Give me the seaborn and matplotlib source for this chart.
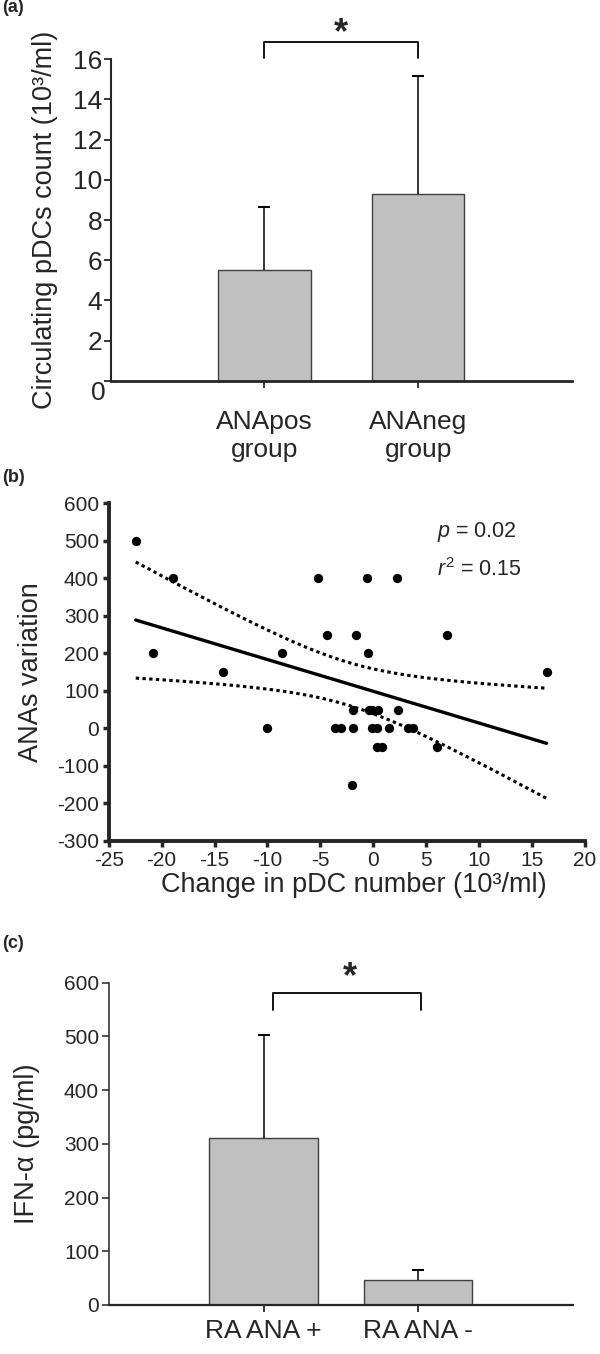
import numpy as np
import pandas as pd
import seaborn as sns
import matplotlib.pyplot as plt

# Panel (a): circulating pDCs per group
group_a = ['ANApos\ngroup', 'ANAneg\ngroup']
pdc_mean = [5.5, 9.3]
pdc_sd = [3.15, 5.85]

# Panel (b): change in pDC number vs ANA variation
pdc_change = [-22.45, -18.9, -20.8, -14.2, -10.0, -8.6, -5.17, -4.35, -3.6, -3.06,
              -2.0, -1.6, -0.6, 2.24, -0.44, 7.03, 16.4,
              -1.86, -0.35, -0.07, 0.5, 2.39,
              -1.86, -0.12, 0.35, 1.54, 3.34, 3.75,
              0.35, 0.82, 6.02]
ana_var = [500, 400, 200, 150, 0, 200, 400, 250, 0, 0,
           -150, 250, 400, 400, 200, 250, 150,
           50, 50, 50, 50, 50,
           0, 0, 0, 0, 0, 0,
           -50, -50, -50]

# Panel (c): IFN-alpha per group
group_c = ['RA ANA +', 'RA ANA -']
ifn_mean = [310, 46]
ifn_sd = [192, 19]

sns.set_style('ticks')
plt.rcParams['font.family'] = ['Liberation Sans', 'DejaVu Sans']
plt.rcParams['axes.unicode_minus'] = False
plt.rcParams['mathtext.fontset'] = 'custom'
plt.rcParams['mathtext.rm'] = 'Liberation Sans'
plt.rcParams['mathtext.it'] = 'Liberation Sans:italic'

fig = plt.figure(figsize=(6, 13.54), dpi=100)


def bar_panel(ax, cats, means, sds, width):
    df = pd.DataFrame({'group': cats, 'value': means})
    sns.barplot(data=df, x='group', y='value', color='#c0c0c0', saturation=1,
                width=width, edgecolor='#404040', linewidth=1, ax=ax)
    eb = ax.errorbar(range(len(cats)), means, yerr=[[0] * len(sds), sds], fmt='none',
                     ecolor='black', elinewidth=1.1, capsize=4, capthick=1.5)
    eb[1][0].set_visible(False)
    ax.set_xlim(-1, 2)
    ax.set_xlabel('')
    sns.despine(ax=ax)


# ---- (a)
ax1 = fig.add_axes([0.1847, 0.7188, 0.7683, 0.2374])
bar_panel(ax1, group_a, pdc_mean, pdc_sd, 0.6)
ax1.set_ylim(0, 16)
ax1.set_yticks(range(0, 17, 2))
ax1.set_yticklabels([''] + [str(v) for v in range(2, 17, 2)])
ax1.annotate('0', xy=(0, 0), xycoords='axes fraction', xytext=(-4, -9),
             textcoords='offset points', ha='right', va='center', fontsize=19)
ax1.spines['left'].set_linewidth(1.5)
ax1.spines['bottom'].set_linewidth(2)
ax1.tick_params(axis='y', labelsize=19, length=5, width=1.3, pad=1)
ax1.tick_params(axis='x', labelsize=19, length=5, width=1.3, pad=16)
ax1.set_ylabel('Circulating pDCs count (10³/ml)', fontsize=19.5)
ax1.yaxis.set_label_coords(-0.1145, 0.5)
ax1.plot([0, 0, 1, 1], [16.06, 16.85, 16.85, 16.06], color='black', lw=1.3, clip_on=False)
ax1.text(0.5, 17.3, '*', ha='center', va='center', fontsize=26, fontweight='bold')

# ---- (b)
ax2 = fig.add_axes([0.1813, 0.379, 0.7930, 0.2493])
sns.regplot(x=pdc_change, y=ana_var, ci=None, color='black',
            scatter_kws={'s': 45, 'linewidths': 0, 'alpha': 1},
            line_kws={'lw': 2.4}, ax=ax2)

# 95% confidence band of the fitted line
x = np.array(pdc_change)
y = np.array(ana_var)
n = len(x)
slope, intercept = np.polyfit(x, y, 1)
resid = y - (slope * x + intercept)
s = np.sqrt(np.sum(resid ** 2) / (n - 2))
sxx = np.sum((x - x.mean()) ** 2)
xs = np.linspace(x.min(), x.max(), 100)
fit = slope * xs + intercept
half = 2.045 * s * np.sqrt(1 / n + (xs - x.mean()) ** 2 / sxx)
for band in (fit + half, fit - half):
    ax2.plot(xs, band, color='black', lw=2.2, ls=(0, (1.1, 1.1)))

ax2.set_xlim(-25, 20)
ax2.set_ylim(-300, 600)
ax2.set_xticks(range(-25, 21, 5))
ax2.set_yticks(range(-300, 601, 100))
sns.despine(ax=ax2)
for sp in ('left', 'bottom'):
    ax2.spines[sp].set_linewidth(2.8)
ax2.tick_params(labelsize=15, length=4, width=2.5, pad=3)
ax2.set_ylabel('ANAs variation', fontsize=19.5)
ax2.yaxis.set_label_coords(-0.136, 0.5)
ax2.set_xlabel('Change in pDC number (10³/ml)', fontsize=19.5, va='top')
ax2.xaxis.set_label_coords(0.515, -0.091)
ax2.text(6.05, 524, r'$\mathit{p}$ = 0.02', ha='left', va='center', fontsize=15.5)
ax2.text(6.05, 422, r'$\mathit{r}^2$ = 0.15', ha='left', va='center', fontsize=15.5)

# ---- (c)
ax3 = fig.add_axes([0.1813, 0.0362, 0.7737, 0.238])
bar_panel(ax3, group_c, ifn_mean, ifn_sd, 0.7)
ax3.set_ylim(0, 600)
ax3.set_yticks(range(0, 601, 100))
ax3.spines['left'].set_linewidth(1.1)
ax3.spines['bottom'].set_linewidth(1.6)
ax3.tick_params(axis='y', labelsize=15, length=5, width=1.1, pad=2)
ax3.tick_params(axis='x', labelsize=19, length=5, width=1.3, pad=5)
ax3.set_ylabel('IFN-α (pg/ml)', fontsize=19.5)
ax3.yaxis.set_label_coords(-0.148, 0.5)
ax3.plot([0.06, 0.06, 1.02, 1.02], [549, 580, 580, 549], color='black', lw=1.3, clip_on=False)
ax3.text(0.56, 609, '*', ha='center', va='center', fontsize=26, fontweight='bold')

# panel letters
for label, ypx in (('(a)', 8), ('(b)', 477), ('(c)', 943)):
    fig.text(0.003, 1 - ypx / 1354, label, ha='left', va='center', fontsize=13, fontweight='bold')

fig.savefig('out.png', dpi=100)
